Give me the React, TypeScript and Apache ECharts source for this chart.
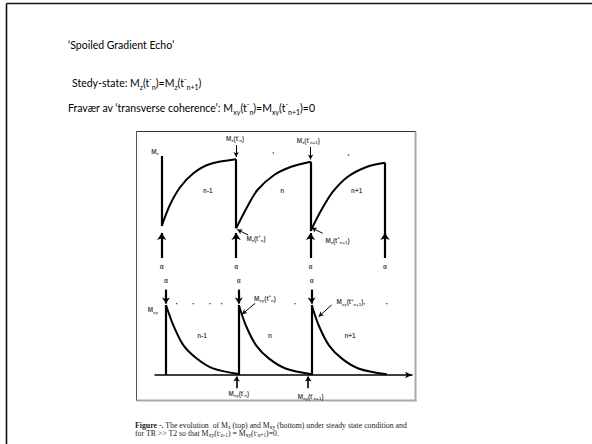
import React, { useEffect, useRef } from "react";
import * as echarts from "echarts";

// Pulse positions (in units of TR)
const pulsesTop = [0, 1, 2, 3];
const pulsesBottom = [0, 1, 2];

// Longitudinal magnetisation Mz just before / just after each pulse
const mzBefore = [0.94, 0.907, 0.883, 0.873];
const mzAfter = [0.24, 0.217, 0.19, 0.15];

// Mz recovery between pulses [t, Mz]
const mzRecovery1 = [[0, 0.24], [0.11, 0.45], [0.25, 0.63], [0.43, 0.77], [0.65, 0.86], [1, 0.907]];
const mzRecovery2 = [[1, 0.217], [1.15, 0.433], [1.286, 0.6], [1.51, 0.75], [1.74, 0.833], [2, 0.883]];
const mzRecovery3 = [[2, 0.19], [2.145, 0.4], [2.3, 0.583], [2.5, 0.733], [2.76, 0.833], [3, 0.873]];

// Transverse magnetisation Mxy after each pulse [t, Mxy]
const mxyDecay1 = [[0, 1], [0.1, 0.714], [0.236, 0.43], [0.418, 0.24], [0.645, 0.095], [1, 0.014]];
const mxyDecay2 = [[1, 1], [1.1, 0.7], [1.24, 0.42], [1.42, 0.23], [1.65, 0.09], [2, 0.012]];
const mxyDecay3 = [[2, 1], [2.1, 0.7], [2.24, 0.42], [2.42, 0.23], [2.65, 0.09], [3.03, 0.01]];
const mxyPeak = [1, 1, 1];

// Cycle labels
const cycleLabels = ["n-1", "n", "n+1"];

const INK = "#111";
const FIG_FONT = "Liberation Sans";
const figRich = {
  m: { fontFamily: FIG_FONT, fontWeight: "bold", fontSize: 6.4, lineHeight: 9, color: INK },
  s: { fontFamily: FIG_FONT, fontWeight: "bold", fontSize: 4.4, lineHeight: 4, verticalAlign: "bottom", color: INK },
  p: { fontFamily: FIG_FONT, fontWeight: "bold", fontSize: 4.4, lineHeight: 5, verticalAlign: "top", color: INK },
};

const TXT_FONT = "Lato";
const TXT = 10.5;
const txtRich = {
  n: { fontFamily: TXT_FONT, fontSize: TXT, lineHeight: 15, fill: "#000" },
  s: { fontFamily: TXT_FONT, fontSize: 7, lineHeight: 6.5, verticalAlign: "bottom", fill: "#000" },
  p: { fontFamily: TXT_FONT, fontSize: 7, lineHeight: 8.5, verticalAlign: "top", fill: "#000" },
};

const CAP_FONT = "Liberation Serif";
const capRich = {
  n: { fontFamily: CAP_FONT, fontSize: 7.8, lineHeight: 8.5, fill: "#222" },
  b: { fontFamily: CAP_FONT, fontSize: 7.8, lineHeight: 8.5, fontWeight: "bold", fill: "#222" },
  s: { fontFamily: CAP_FONT, fontSize: 5.4, lineHeight: 4.5, verticalAlign: "bottom", fill: "#222" },
  p: { fontFamily: CAP_FONT, fontSize: 5.4, lineHeight: 5.5, verticalAlign: "top", fill: "#222" },
};

function segments(grid: number, segs: number[][][], width: number, arrow: boolean, size: number[] = [6, 6]) {
  return {
    type: "line",
    xAxisIndex: grid,
    yAxisIndex: grid,
    data: [],
    silent: true,
    markLine: {
      silent: true,
      animation: false,
      symbol: arrow ? ["none", "arrow"] : ["none", "none"],
      symbolSize: size,
      label: { show: false },
      emphasis: { disabled: true },
      lineStyle: { color: "#000", width, type: "solid" },
      data: segs.map(([a, b]) => [{ coord: a }, { coord: b }]),
    },
  };
}

function curve(grid: number, data: number[][]) {
  return {
    type: "line",
    xAxisIndex: grid,
    yAxisIndex: grid,
    data,
    smooth: 0.3,
    symbol: "none",
    silent: true,
    clip: false,
    lineStyle: { color: "#000", width: 2 },
  };
}

function labels(grid: number, items: { at: number[]; text: string }[], rich: any) {
  return {
    type: "scatter",
    xAxisIndex: grid,
    yAxisIndex: grid,
    symbolSize: 0,
    silent: true,
    clip: false,
    itemStyle: { color: INK },
    data: items.map((it) => ({
      value: it.at,
      label: { formatter: it.text },
    })),
    label: {
      show: true,
      position: [0, 0],
      align: "center",
      verticalAlign: "middle",
      rich,
      fontFamily: FIG_FONT,
      fontWeight: "bold",
      fontSize: 6.4,
      color: INK,
    },
  };
}

function dots(grid: number, pts: number[][]) {
  return {
    type: "scatter",
    xAxisIndex: grid,
    yAxisIndex: grid,
    symbol: "rect",
    symbolSize: 1.4,
    silent: true,
    itemStyle: { color: "#222" },
    data: pts,
  };
}

export default function App() {
  const ref = useRef<HTMLDivElement>(null);

  useEffect(() => {
    document.body.style.margin = "0";
    const chart = echarts.init(ref.current!, null, { renderer: "svg" });

    const topVerticals = pulsesTop.map((p, i) => [[p, mzBefore[i]], [p, mzAfter[i]]]);
    const topPulseArrows = pulsesTop.map((p) => [[p, -0.08], [p, 0.17]]);
    const bottomVerticals = pulsesBottom.map((p, i) => [[p, mxyPeak[i]], [p, 0]]);
    const bottomPulseArrows = pulsesBottom.map((p) => [[p, 1.22], [p, 1.02]]);

    const option: any = {
      animation: false,
      backgroundColor: "#ffffff",
      grid: [
        { left: 143.1, top: 130, width: 260.5, height: 140 },
        { left: 155, top: 270, width: 257, height: 140 },
      ],
      xAxis: [
        { type: "value", gridIndex: 0, min: -0.25, max: 3.25, show: false },
        {
          type: "value",
          gridIndex: 1,
          min: -0.15,
          max: 3.377,
          axisLine: {
            show: true,
            onZero: true,
            symbol: ["none", "arrow"],
            symbolSize: [5, 7],
            lineStyle: { color: "#000", width: 1.5 },
          },
          axisTick: { show: false },
          axisLabel: { show: false },
          splitLine: { show: false },
        },
      ],
      yAxis: [
        { type: "value", gridIndex: 0, min: -0.2, max: 1.2, show: false },
        { type: "value", gridIndex: 1, min: -0.5, max: 1.5, show: false, splitLine: { show: false } },
      ],
      graphic: [
        // slide frame
        { type: "line", shape: { x1: 6.5, y1: 3.5, x2: 592, y2: 3.5 }, style: { stroke: "#111", lineWidth: 1.6 } },
        { type: "line", shape: { x1: 6.5, y1: 3.5, x2: 6.5, y2: 444 }, style: { stroke: "#111", lineWidth: 1.6 } },
        // figure frame
        { type: "line", shape: { x1: 136.5, y1: 131.5, x2: 416, y2: 131.5 }, style: { stroke: "#333", lineWidth: 1 } },
        { type: "line", shape: { x1: 136.5, y1: 131.5, x2: 136.5, y2: 401 }, style: { stroke: "#555", lineWidth: 1 } },
        { type: "line", shape: { x1: 415.5, y1: 131.5, x2: 415.5, y2: 401.5 }, style: { stroke: "#aaa", lineWidth: 2 } },
        { type: "line", shape: { x1: 136.5, y1: 400.5, x2: 416.5, y2: 400.5 }, style: { stroke: "#aaa", lineWidth: 2 } },
        // slide text
        {
          type: "text",
          x: 68,
          y: 45,
          style: { text: "{n|‘Spoiled Gradient Echo’}", rich: txtRich, verticalAlign: "middle" },
        },
        {
          type: "text",
          x: 72,
          y: 83,
          style: {
            text: "{n|Stedy-state: M}{s|z}{n|(t}{p|-}{s|n}{n|)=M}{s|z}{n|(t}{p|-}{s|n+1}{n|)}",
            rich: txtRich,
            verticalAlign: "middle",
          },
        },
        {
          type: "text",
          x: 68,
          y: 108,
          style: {
            text: "{n|Fravær av ‘transverse coherence’: M}{s|xy}{n|(t}{p|-}{s|n}{n|)=M}{s|xy}{n|(t}{p|-}{s|n+1}{n|)=0}",
            rich: txtRich,
            verticalAlign: "middle",
          },
        },
        // caption
        {
          type: "text",
          x: 135,
          y: 425,
          style: {
            text: "{b|Figure -.}{n| The evolution  of M}{s|z}{n| (top) and M}{s|xy}{n| (bottom) under steady state condition and}",
            rich: capRich,
            verticalAlign: "middle",
          },
        },
        {
          type: "text",
          x: 135,
          y: 433.5,
          style: {
            text: "{n|for TR >> T2 so that M}{s|xy}{n|(t}{p|-}{s|n-1}{n|) = M}{s|xy}{n|(t}{p|-}{s|n+1}{n|)=0.}",
            rich: capRich,
            verticalAlign: "middle",
          },
        },
      ],
      series: [
        // ---- top panel: Mz ----
        curve(0, mzRecovery1),
        curve(0, mzRecovery2),
        curve(0, mzRecovery3),
        segments(0, topVerticals, 2.2, false),
        segments(0, topPulseArrows, 2.2, true, [7, 7]),
        segments(0, [[[1, 1.05], [1, 0.93]], [[2, 1.03], [2, 0.905]]], 1, true, [4, 5]),
        segments(0, [[[1.16, 0.15], [1.015, 0.205]], [[2.163, 0.167], [2.015, 0.222]]], 1, true, [4, 5]),
        dots(0, [[1.5, 0.97], [2.51, 0.95]]),
        labels(
          0,
          [
            ...pulsesTop.map((p) => ({ at: [p, -0.16], text: "{m|α}" })),
            ...cycleLabels.map((c, i) => ({ at: [i + 0.62, 0.6], text: `{m|${c}}` })),
            { at: [-0.09, 0.99], text: "{m|M}{s|z}" },
            { at: [0.985, 1.12], text: "{m|M}{s|z}{m|(t}{p|-}{s|n}{m|)}" },
            { at: [1.97, 1.1], text: "{m|M}{s|z}{m|(t}{p|-}{s|n+1}{m|)}" },
            { at: [1.267, 0.117], text: "{m|M}{s|z}{m|(t}{p|+}{s|n}{m|)}" },
            { at: [2.362, 0.1], text: "{m|M}{s|z}{m|(t}{p|+}{s|n+1}{m|)}" },
          ],
          figRich
        ),
        // ---- bottom panel: Mxy ----
        curve(1, mxyDecay1),
        curve(1, mxyDecay2),
        curve(1, mxyDecay3),
        segments(1, bottomVerticals, 2.2, false),
        segments(1, bottomPulseArrows, 2.2, true, [6, 6]),
        segments(1, [[[1.222, 1.024], [1.045, 0.867]], [[2.274, 1.0], [2.095, 0.833]]], 1, true, [4, 5]),
        segments(1, [[[0.97, -0.19], [0.97, -0.02]], [[1.953, -0.19], [1.953, -0.02]]], 1.6, true, [5, 5]),
        dots(1, [[0.147, 1.02], [0.375, 1.02], [0.604, 1.02], [0.764, 1.02], [1.77, 1.02], [3.03, 1.02]]),
        labels(
          1,
          [
            ...pulsesBottom.map((p) => ({ at: [p, 1.357], text: "{m|α}" })),
            ...cycleLabels.map((c, i) => ({ at: [i + [0.494, 0.428, 0.526][i], 0.571], text: `{m|${c}}` })),
            { at: [-0.18, 0.93], text: "{m|M}{s|xy}" },
            { at: [1.359, 1.095], text: "{m|M}{s|xy}{m|(t}{p|+}{s|n}{m|)}" },
            { at: [2.537, 1.047], text: "{m|M}{s|xy}{m|(t}{p|+}{s|n+1}{m|),}" },
            { at: [1.0, -0.26], text: "{m|M}{s|xy}{m|(t}{p|-}{s|n}{m|)}" },
            { at: [1.986, -0.3], text: "{m|M}{s|xy}{m|(t}{p|-}{s|n+1}{m|)}" },
          ],
          figRich
        ),
      ],
    };

    chart.setOption(option);
    return () => chart.dispose();
  }, []);

  return <div ref={ref} style={{ width: 592, height: 444 }} />;
}
